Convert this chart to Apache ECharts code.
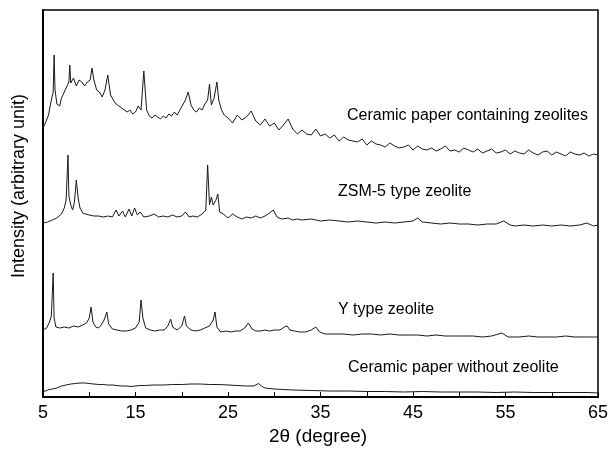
<!DOCTYPE html>
<html>
<head>
<meta charset="utf-8">
<script src="https://cdn.jsdelivr.net/npm/echarts@6/dist/echarts.min.js"></script>
<style>html,body{margin:0;padding:0;background:#fff}#c{width:612px;height:455px}</style>
</head>
<body>
<div id="c"></div>
<script>
// 2θ (degree) and intensity (arbitrary unit)
const ceramicZeoX = [5.0,5.3,5.6,5.9,6.1,6.2,6.3,6.5,6.8,7.0,7.3,7.6,7.8,7.9,8.0,8.3,8.6,8.9,9.2,9.5,9.8,10.1,10.3,10.5,10.8,11.1,11.4,11.7,12.0,12.3,12.6,12.9,13.2,13.5,13.8,14.1,14.4,14.7,15.0,15.3,15.6,15.9,16.2,16.5,16.8,17.1,17.4,17.7,18.0,18.3,18.6,18.9,19.2,19.5,19.8,20.1,20.4,20.7,21.0,21.3,21.6,21.9,22.2,22.5,22.8,23.0,23.2,23.5,23.8,24.0,24.3,24.6,
  25.0,25.5,26.0,26.5,27.0,27.5,28.0,28.5,29.0,29.5,30.0,30.5,31.0,31.5,32.0,32.5,33.0,33.5,34.0,34.5,35.0,35.5,36.0,36.5,37.0,37.5,38.0,38.5,39.0,39.5,40.0,40.5,41.0,41.5,42.0,42.5,43.0,43.5,44.0,44.5,45.0,45.5,46.0,46.5,47.0,47.5,48.0,48.5,49.0,49.5,50.0,50.5,51.0,51.5,52.0,52.5,53.0,53.5,54.0,54.5,55.0,55.5,56.0,56.5,57.0,57.5,58.0,58.5,59.0,59.5,60.0,60.5,61.0,61.5,62.0,62.5,63.0,63.5,64.0,64.5,65.0];
const ceramicZeoY = [269,275,282,297,305,342,307,293,291,299,305,311,315,332,314,319,311,317,315,311,315,317,329,317,307,305,300,307,322,302,297,293,291,289,287,285,287,283,285,291,287,326,287,281,279,282,280,278,281,279,283,281,285,282,287,292,297,305,292,287,285,289,287,293,297,313,292,299,315,297,287,282,
  279,274,282,277,280,286,276,272,278,271,274,267,272,278,268,263,267,263,262,268,261,263,259,262,256,260,257,256,255,258,252,256,253,252,250,254,251,249,250,252,247,251,248,247,249,246,248,251,246,247,245,249,247,245,248,244,246,248,244,245,247,243,246,244,243,247,244,242,245,246,242,245,243,241,245,243,242,244,241,243,242];

const zsm5X = [5.0,5.5,6.0,6.5,7.0,7.3,7.5,7.7,7.8,8.0,8.2,8.4,8.6,8.8,9.0,9.3,9.6,10.0,10.5,11.0,11.5,12.0,12.5,12.9,13.2,13.6,13.9,14.3,14.6,14.9,15.2,15.5,15.9,16.5,17.0,17.5,18.0,18.5,19.0,19.5,20.0,20.4,20.8,21.2,21.7,22.2,22.6,22.8,23.0,23.2,23.4,23.7,23.9,24.1,24.5,25.0,25.5,26.0,26.5,27.0,27.5,28.0,28.5,29.0,29.5,29.9,30.3,30.8,31.5,32.0,32.5,33.0,34.0,35.0,36.0,37.0,38.0,39.0,40.0,41.0,42.0,43.0,44.0,45.0,45.5,46.0,47.0,48.0,49.0,50.0,51.0,52.0,53.0,54.0,54.8,55.5,56.0,57.0,58.0,59.0,60.0,61.0,62.0,63.0,63.8,64.5,65.0];
const zsm5Y = [174,175,177,179,183,189,197,242,201,192,187,195,217,199,189,184,183,182,181,181,180,181,180,187,181,186,180,188,181,189,182,185,180,181,183,180,181,180,182,180,181,185,180,181,180,183,187,232,192,200,192,197,203,185,183,179,183,180,178,180,179,181,179,181,184,187,180,178,179,177,178,177,178,176,177,176,175,176,175,174,175,174,175,176,179,175,174,173,174,173,173,172,173,173,176,172,171,172,171,172,171,172,171,172,174,171,172];

const yTypeX = [5.0,5.4,5.7,5.9,6.1,6.2,6.4,6.8,7.3,7.8,8.3,8.8,9.3,9.7,10.0,10.2,10.4,10.7,11.0,11.3,11.6,11.9,12.1,12.5,13.0,13.5,14.0,14.5,15.0,15.4,15.6,15.8,16.1,16.6,17.1,17.6,18.1,18.5,18.8,19.0,19.5,20.0,20.3,20.5,21.0,21.5,22.0,22.5,23.0,23.4,23.6,23.8,24.2,24.8,25.3,25.8,26.3,26.8,27.2,27.4,27.6,28.0,28.5,29.0,29.5,30.0,30.6,31.1,31.4,31.7,32.2,32.8,33.4,34.0,34.5,34.9,35.5,36.5,37.5,38.5,39.5,40.5,41.5,42.5,43.5,44.5,45.5,46.5,47.5,48.5,49.5,50.5,51.5,52.5,53.5,54.6,55.3,56.5,57.5,58.5,59.5,60.5,61.5,62.5,63.5,64.5,65.0];
const yTypeY = [67,69,75,81,124,79,70,69,70,69,71,70,72,74,79,90,75,70,69,72,77,85,73,68,67,66,66,67,69,75,97,79,69,67,66,67,67,71,78,70,67,71,81,71,67,66,67,69,71,77,85,70,65,66,65,66,66,69,74,76,68,66,66,67,66,67,67,70,71,67,66,65,65,67,70,65,63,63,63,62,63,63,62,63,62,62,62,61,62,61,61,61,61,60,61,64,60,60,61,60,60,60,61,60,60,60,60];

const plainX = [5.0,5.5,6.0,6.5,7.0,7.5,8.0,8.5,9.0,9.5,10.0,10.5,11.0,11.5,12.0,12.5,13.0,13.5,14.0,14.5,15.0,15.5,16.0,17.0,18.0,19.0,20.0,21.0,22.0,23.0,24.0,25.0,26.0,27.0,27.8,28.3,28.6,29.0,30.0,31.0,32.0,34.0,36.0,38.0,40.0,42.0,44.0,46.0,48.0,50.0,52.0,54.0,56.0,58.0,60.0,62.0,64.0,65.0];
const plainY = [5,7,8,9,11,12,13,13.5,14,14,13.5,13,12.5,12.5,12,12,11.5,11,11,10.5,11,11.5,11.5,12,12,12.5,12.5,13,13,12.5,12.5,12,11.5,11,11,13.5,11,9,8,7.5,7,6.5,6,6,5.5,5.5,5,5.5,5,5,5,4.5,5,4.5,4.5,4.5,4.5,4];

const seriesNames = ["Ceramic paper containing zeolites","ZSM-5 type zeolite","Y type zeolite","Ceramic paper without zeolite"];
const xTicks = [5,15,25,35,45,55,65];

function pairs(xs, ys){ return xs.map((x,i)=>[x, ys[i]]); }

const FONT = '"Liberation Sans", Arial, sans-serif';
const chart = echarts.init(document.getElementById('c'), null, {renderer:'canvas'});
const lineStyle = {color:'#1a1a1a', width:1};
chart.setOption({
  animation:false,
  backgroundColor:'#fff',
  grid:{left:43, right:14, top:10, bottom:58, show:true, borderColor:'#000', borderWidth:1.5, backgroundColor:'transparent'},
  xAxis:{type:'value', min:5, max:65, interval:5,
    axisLine:{show:true, lineStyle:{color:'#000', width:2}},
    axisTick:{show:true, inside:true, length:5, lineStyle:{color:'#000', width:1}},
    splitLine:{show:false},
    axisLabel:{margin:7, color:'#000', fontSize:18, fontFamily:FONT,
      formatter:v=> xTicks.indexOf(v)>=0 ? String(v) : ''}
  },
  yAxis:{type:'value', min:0, max:387,
    axisLine:{show:true, lineStyle:{color:'#000', width:2}},
    axisTick:{show:false}, axisLabel:{show:false}, splitLine:{show:false}
  },
  series:[
    {name:seriesNames[0], type:'line', data:pairs(ceramicZeoX, ceramicZeoY), showSymbol:false, lineStyle},
    {name:seriesNames[1], type:'line', data:pairs(zsm5X, zsm5Y), showSymbol:false, lineStyle},
    {name:seriesNames[2], type:'line', data:pairs(yTypeX, yTypeY), showSymbol:false, lineStyle},
    {name:seriesNames[3], type:'line', data:pairs(plainX, plainY), showSymbol:false, lineStyle}
  ],
  graphic:[
    {type:'text', left:347, top:108, style:{text:seriesNames[0], font:'16px '+FONT, fill:'#000'}},
    {type:'text', left:338, top:184, style:{text:seriesNames[1], font:'16px '+FONT, fill:'#000'}},
    {type:'text', left:338, top:302, style:{text:seriesNames[2], font:'16px '+FONT, fill:'#000'}},
    {type:'text', left:348, top:360, style:{text:seriesNames[3], font:'16px '+FONT, fill:'#000'}},
    {type:'text', x:318, y:437, style:{text:'2θ (degree)', font:'19px '+FONT, fill:'#000', textAlign:'center', textVerticalAlign:'middle'}},
    {type:'text', x:19, y:186, rotation:Math.PI/2, style:{text:'Intensity (arbitrary unit)', font:'18px '+FONT, fill:'#000', textAlign:'center', textVerticalAlign:'middle'}}
  ]
});
</script>
</body>
</html>
